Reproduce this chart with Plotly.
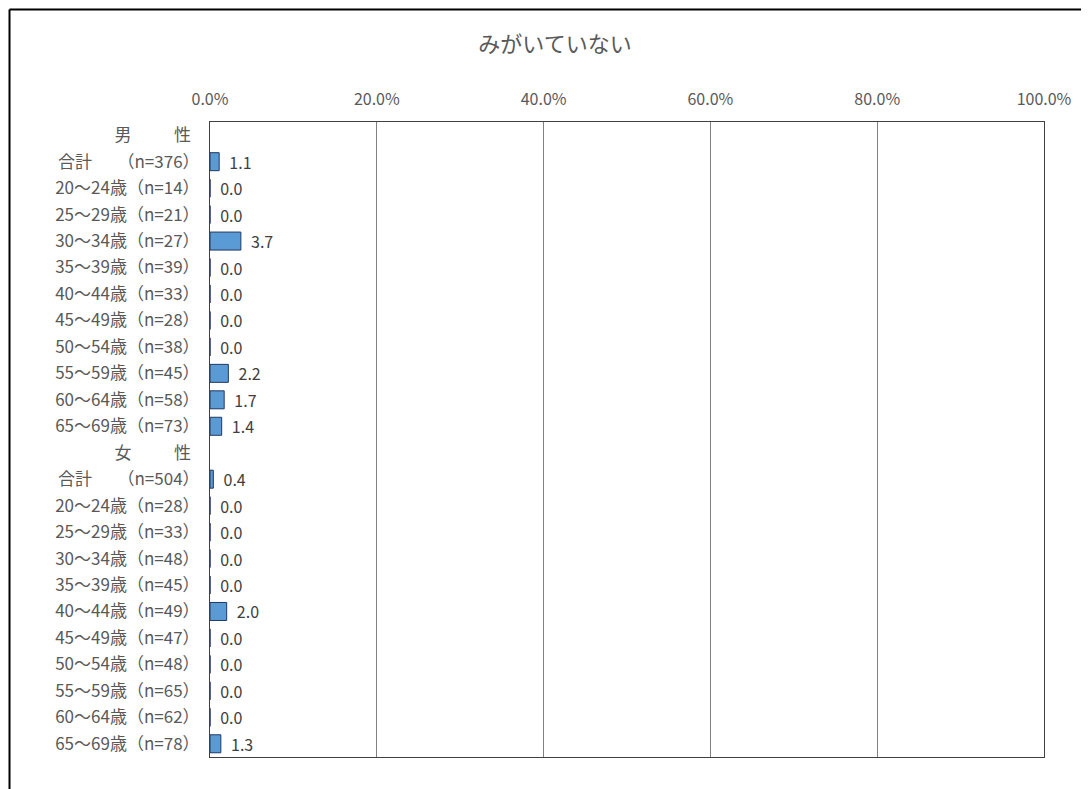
import plotly.graph_objects as go

title = "みがいていない"

categories = [
    "男　　\u2002性\u2002",
    "合計　　（n=376）",
    "20～24歳（n=14）",
    "25～29歳（n=21）",
    "30～34歳（n=27）",
    "35～39歳（n=39）",
    "40～44歳（n=33）",
    "45～49歳（n=28）",
    "50～54歳（n=38）",
    "55～59歳（n=45）",
    "60～64歳（n=58）",
    "65～69歳（n=73）",
    "女　　\u2002性\u2002",
    "合計　　（n=504）",
    "20～24歳（n=28）",
    "25～29歳（n=33）",
    "30～34歳（n=48）",
    "35～39歳（n=45）",
    "40～44歳（n=49）",
    "45～49歳（n=47）",
    "50～54歳（n=48）",
    "55～59歳（n=65）",
    "60～64歳（n=62）",
    "65～69歳（n=78）",
]

values = [
    None, 1.1, 0.0, 0.0, 3.7, 0.0, 0.0, 0.0, 0.0, 2.2, 1.7, 1.4,
    None, 0.4, 0.0, 0.0, 0.0, 0.0, 2.0, 0.0, 0.0, 0.0, 0.0, 1.3,
]

tick_vals = [0, 20, 40, 60, 80, 100]
tick_text = ["0.0%", "20.0%", "40.0%", "60.0%", "80.0%", "100.0%"]

labels = ["" if v is None else "  " + f"{v:.1f}" for v in values]

font_family = "Noto Sans CJK JP, Noto Sans, sans-serif"
grey = "#595959"

fig = go.Figure(go.Bar(
    x=values,
    y=categories,
    orientation="h",
    text=labels,
    textposition="outside",
    constraintext="none",
    cliponaxis=False,
    textfont=dict(size=16, color="#404040", family=font_family),
    marker=dict(color="#5B9BD5", line=dict(color="#1F3864", width=1)),
))

# page has an 8px body margin, so the figure is shifted by 8px
fig.update_layout(
    width=1089,
    height=789,
    margin=dict(l=202, r=53, t=114, b=40),
    paper_bgcolor="white",
    plot_bgcolor="white",
    bargap=0.32,
    showlegend=False,
    font=dict(family=font_family, color=grey),
    title=dict(text=title, x=547 / 1089, xref="container", xanchor="center",
               y=1 - 36 / 789, yanchor="middle",
               font=dict(size=22, color=grey, family=font_family)),
    shapes=[
        dict(type="line", xref="paper", yref="paper",
             x0=-0.2404, x1=1.2, y0=1.1772, y1=1.1772,
             line=dict(color="black", width=2)),
        dict(type="line", xref="paper", yref="paper",
             x0=-0.2404, x1=-0.2404, y0=1.1772, y1=-0.2,
             line=dict(color="black", width=2)),
    ],
)

fig.update_xaxes(
    range=[0, 100],
    side="top",
    tickvals=tick_vals,
    ticktext=tick_text,
    tickfont=dict(size=16, color=grey, family=font_family),
    ticklabelstandoff=10,
    showgrid=True,
    gridcolor="#808080",
    gridwidth=1,
    zeroline=False,
    showline=True,
    linecolor="#404040",
    linewidth=1,
    mirror=True,
    ticks="",
    fixedrange=True,
)

fig.update_yaxes(
    autorange="reversed",
    tickfont=dict(size=17, color=grey, family=font_family),
    ticklabelstandoff=6,
    showline=True,
    linecolor="#404040",
    linewidth=1,
    mirror=True,
    ticks="",
    showgrid=False,
    fixedrange=True,
)

fig.write_html("out.html")
